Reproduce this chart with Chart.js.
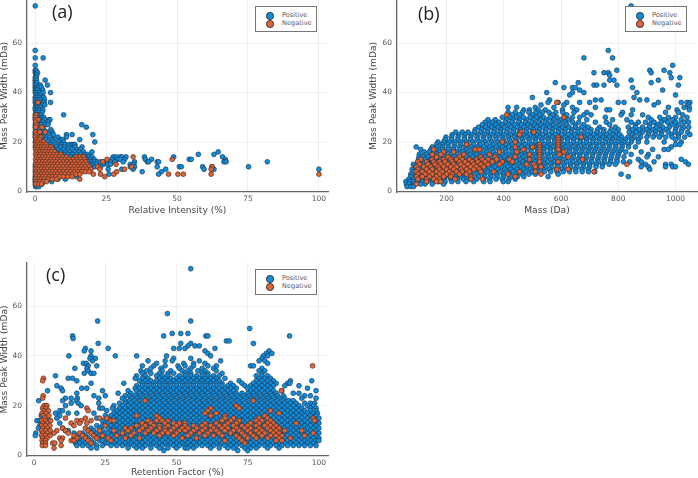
<!DOCTYPE html>
<html>
<head>
<meta charset="utf-8">
<title>Mass peak width</title>
<script src="https://cdn.jsdelivr.net/npm/chart.js@4"></script>
<style>
  html, body { margin: 0; padding: 0; background: #fff; }
  body { position: relative; width: 698px; height: 478px; overflow: hidden; }
  canvas { position: absolute; }
  .tag { position: absolute; font: 18px "Open Sans", sans-serif; color: #222; line-height: 20px; }
  .legend { position: absolute; width: 60px; height: 24px; border: 1px solid #777; background: #fff; z-index: 2;
            font: 6.6px "DejaVu Sans", sans-serif; color: #555; }
  .legend div { position: absolute; left: 26px; line-height: 9px; white-space: nowrap; }
  .legend i { position: absolute; left: -16px; top: 1px; width: 5.6px; height: 5.6px; border-radius: 50%; border: .6px solid #333; }
</style>
</head>
<body>
<canvas id="chartA"></canvas>
<canvas id="chartB"></canvas>
<canvas id="chartC"></canvas>
<script>
const seriesNames = ['Positive', 'Negative'];
const yTicks = [0, 20, 40, 60];
const xTicksA = [0, 25, 50, 75, 100];
const xTicksB = [200, 400, 600, 800, 1000];
const xTicksC = [0, 25, 50, 75, 100];
const yTitle = 'Mass Peak Width (mDa)';

// every row is [peak width, [x values read at that width]]
const posIntensity = [
  [75,[0]],[57,[0]],[54,[0,2.8]],[51,[0]],[49,[0,.3]],[48,[0,.4,.8]],[47,[.2,.5]],[46,[0,.3]],[45,[0,.4,3.5]],[44,[0,.6]],
  [43,[0,.3,1.8,4.3]],[42,[0,.5,1.2,2.2]],[41,[0,.3,.8,2.6]],[40,[0,.6,1.5,2.8,5.4]],[39,[.2,1,1.9]],[38,[0,.5,1.3,2.4,3]],
  [37,[0,.8,1.7,3.3]],[36,[0,.4,1.2,2.1,3,5.4]],[35,[.2,.7,1.6,2.5,3.4]],[34,[0,.5,1,2]],[33,[0,.8,1.4,2.7]],[32,[.2,.6,1.2,2.4]],
  [31,[0,.7,1.5,2,10]],[30,[0,.4,1.1,2.3,3]],[29,[0,.6,1.3,2.5,3.2,4.8,5.2]],[28,[.2,.8,1.9,2.8,4.6]],[27,[0,.5,1.2,2.1,3.5,4.5,16.4]],
  [26,[0,.9,1.6,2.6,18]],[25,[.1,.7,1.4,3,5.5]],[24,[0,.6,1.5,2.4,3.6,4.2,6]],[23,[0,1,2,3.1,5.8,6.4,11,13,20.3]],
  [22,[0,.7,1.8,2.9,4,5.2,8,11]],[21,[.2,1.2,2.5,3.7,6,7,9,9.6,15.7]],[20,[0,1,2.2,4.5,6.6,8.7,10,21]],
  [19,[.3,1.5,3,5,7,8.8,9.5,10.5,12,12.8,13.5,14]],[18,[0,2,4,6,7.5,9,10.3,14,16.5]],[17,[.5,2.6,5,6.5,8,10,11.5,13,14.8,16]],
  [16,[1,3.5,6,7.5,9,10.5,12,14,15.5,17,20,64.5]],[15,[2,5,7,8.5,10.5,11.5,13,14.5,16,17.5,18.5,57.5,63]],
  [14,[4,7,9,11,12.5,14,15.5,17,18.2,19,20,27.5,28.5,30,30.5,32,38.5,48.8,66]],
  [13,[6,9,11,13,15,17,18,19.5,20.8,27,29,30,31.5,38.8,41,54.3,55,67]],
  [12,[5,8,12,14,16,18,19,20,21,22,23,24,25,26.5,28,31,35,39.5,40,43,43.5,66.5,67.3,81.8]],
  [11,[.1,7,15,19,20.5,21.5,24,25.5,26.5,33.5,34.7]],[10,[0,9,18,21,23,33.5,35,43,50.8,51.5,59,62.3,75.2]],
  [9,[.1,10.5,19.5,25.7,30.5,34.5,46,59.5,63,100]],[8,[0,11,37.7,44.5]],[7,[.1,6,13.5,26,43.5]],[6,[0,.4,2,7.5,14.5]],
  [5,[0,.5,1.5,4,8,10.6]],[4,[0,.4,1,2,5.8]],[3,[0,.5,1,1.6,2.4]],[2,[.1,.5,1.3]]
];
const negIntensity = [
  [36,[1]],[31,[.3]],[30,[.1]],[29,[.2,1]],[28,[.1]],[27,[.4]],[26,[.2,2.4]],[24,[.1,1.6,3.5]],[23,[.3]],[22,[.1,1.2,2]],
  [21,[.4,1.6]],[20,[.2,1,2.2,3]],[19,[.1,.9,1.8,2.9,3.8]],[18,[.3,1.2,2.2,3.2,4.5,5.5]],[17,[.1,.9,2,2.9,4,5,6]],
  [16,[.4,1.5,2.5,3.5,4.6,5.7,6.8]],[15,[.1,1,2,3.1,4.2,5.3,6.5,7.7,9]],[14,[.4,1.5,2.6,3.7,4.8,6,7.2,8.5,9.8,11,14.4,15.6,17,34.5]],
  [13,[.1,1,2.1,3.2,4.3,5.5,6.7,8,9.2,10.4,12,13.4,14.8,16,17.4,25.3,48.3]],
  [12,[.4,1.5,2.6,3.7,4.9,6.1,7.3,8.6,9.9,11.2,12.6,13.9,15.2,16.5,17.8,23.8]],
  [11,[.1,1,2.1,3.2,4.3,5.5,6.7,7.9,9.2,10.5,11.8,13.1,14.4,15.7,17,18.3,28.5]],
  [10,[.4,1.5,2.6,3.7,4.9,6.1,7.3,8.6,9.9,11.2,12.5,13.8,15.1,16.4,17.7,19,22,34,62.3]],
  [9,[.1,1,2.1,3.2,4.3,5.5,6.7,7.9,9.2,10.5,11.8,13.1,14.4,15.7,17,18.3,19.6,22.8,31.5,62]],
  [8,[.4,1.5,2.6,3.7,4.9,6.1,7.3,8.6,9.9,11.2,12.5,13.8,15.1,16.4,17.7,19,28.7]],
  [7,[.1,1,2.1,3.2,4.3,5.5,6.7,7.9,9.2,10.5,11.8,13.1,14.4,15.7,20.5,23,27.7,47,50.3,52.2,62,100]],
  [6,[.4,1.5,2.6,3.7,4.9,6.1,7.3,8.6,9.9,11.5,13,24.5]],[5,[.1,1,2.1,3.2,4.5,6,7.5,15.7]],[4,[.4,1.6,2.8,4]],[3,[.2,1.2,2.2]]
];

const posMass = [
  [75,[845]],[57,[765]],[54,[680,780]],[51,[990]],[49,[795,910,960]],[48,[715,750,765,915,980]],[47,[770]],[46,[985,1015]],[45,[770,785,845,940]],
  [44,[580,660,915]],[43,[715,725,750,795,1010]],[42,[610,640,650,850]],[41,[665,955]],[40,[550,640,680,865]],[39,[630,1000]],[38,[500,855]],
  [37,[560,720,740,875,900]],[36,[555,590,620,665,700,800,820,940,1020,1040,1050]],[35,[530,610,925,1045]],[34,[415,445,510,575,640,720,975,1030,1048]],
  [33,[470,490,520,545,605,655,760,770,850,1005,1048]],[32,[415,440,465,488,512,535,558,582,606,645,690,815,965,1010]],
  [31,[430,455,500,525,570,620,680,705,810,845,885,1025]],[30,[395,420,445,468,492,515,538,562,585,610,640,665,755,905,945,975,1000,1040]],
  [29,[345,370,410,432,455,480,505,527,550,575,600,625,690,780,830,915,960,990,1020]],[28,[335,360,383,405,428,452,475,498,522,545,568,592,615,640,662,720,758,845,870,895,925,950,972,1000,1030,1045]],
  [27,[325,350,372,395,418,440,462,485,508,530,553,575,598,620,650,680,770,860,910,938,985,1012]],[26,[312,336,358,380,402,425,448,470,493,515,538,560,583,605,628,650,672,695,735,790,835,860,885,908,932,955,978,1002,1028,1046]],
  [25,[300,323,345,368,390,413,435,458,480,503,525,548,570,593,615,638,660,683,705,728,750,775,800,850,873,900,922,945,968,1000,1022]],[24,[232,255,275,298,320,342,365,387,410,432,455,478,500,522,545,568,590,612,635,658,680,702,725,748,770,792,838,862,885,908,930,952,975,998,1020,1042]],
  [23,[220,243,265,288,310,333,355,378,400,423,445,468,490,513,535,558,580,603,625,648,670,693,715,738,760,783,805,850,875,905,928,950,985,1010,1050]],[22,[198,218,240,262,284,306,328,350,372,394,416,438,460,482,504,526,548,570,592,614,636,658,680,702,724,746,768,790,812,834,856,878,900,922,944,966,988,1010,1032]],
  [21,[195,218,240,263,285,308,330,353,375,398,420,443,465,488,510,533,555,578,600,623,645,668,690,713,735,758,780,803,825,848,870,1000]],[20,[170,190,210,230,250,270,292,314,336,358,380,402,424,446,468,490,512,534,556,578,600,622,644,666,688,710,732,754,776,798,820,845,870,900,960,1020]],
  [19,[165,185,205,228,250,273,295,318,340,363,385,408,430,453,475,498,520,543,565,588,610,633,655,678,700,723,745,768,790,813,835,1000,1015]],[18,[94,150,168,186,206,226,246,266,286,308,330,352,374,396,418,440,462,484,506,528,550,572,594,616,638,660,682,704,726,748,770,792,814,836,860,985]],
  [17,[110,145,165,185,205,225,248,270,293,315,338,360,383,405,428,450,473,495,518,540,563,585,608,630,653,675,698,720,743,765,788,810,920,960,975]],[16,[122,140,158,176,196,216,236,256,276,298,320,342,364,386,408,430,452,474,496,518,540,562,584,606,628,650,672,694,716,738,760,782,804,826,880]],
  [15,[105,130,150,170,193,215,238,260,283,305,328,350,373,395,418,440,463,485,508,530,553,575,598,620,643,665,688,710,733,755,778,800,845,905]],[14,[104,118,136,154,172,190,210,230,250,270,292,314,336,358,380,402,424,446,468,490,512,534,556,578,600,622,644,666,688,710,732,754,776,798,820,900,940]],
  [13,[102,125,145,165,188,210,233,255,278,300,323,345,368,390,413,435,458,480,503,525,548,570,593,615,638,660,683,705,728,750,773,795,870,1020]],[12,[100,116,134,152,170,188,208,228,248,268,290,312,334,356,378,400,422,444,466,488,510,532,554,576,598,620,642,664,686,708,730,752,774,796,818,840,880,925,1035]],
  [11,[84,120,140,160,183,205,228,250,273,295,318,340,363,385,408,430,453,475,498,520,543,565,588,610,633,655,678,700,723,745,768,790,895,965,985,1045]],[10,[90,108,126,144,162,180,200,220,240,260,282,304,326,348,370,392,414,436,458,480,502,524,546,568,590,612,634,656,678,700,722,744,880,905,965,990,1000]],
  [9,[80,115,135,155,178,200,223,245,268,290,313,335,358,380,403,425,448,470,493,515,538,560,583,605,628,650,673,695,910]],[8,[84,102,120,138,156,176,196,216,236,256,278,300,322,344,366,388,410,432,454,476,498,520,542,564,586,608,630,652,674,696,718]],
  [7,[75,110,130,150,173,195,218,240,263,285,308,330,353,375,398,420,443,465,488,510,590,810]],[6,[76,92,108,124,142,160,178,196,214,232,250,270,290,312,334,356,378,400,425,448,470,555,835]],
  [5,[68,85,105,125,148,170,193,215,238,260,283,305,328,350,373,395,418,440]],[4,[58,72,84,98,115,132,150,172,195,218,240,268,295,330,352,398,415]],[3,[60,70,88,110,125,150,190]],[2,[62,75,85]]
];
const negMass = [
  [36,[585]],[31,[410]],[30,[610]],[24,[460,505]],[23,[455]],[22,[590,670]],[21,[590]],[20,[395,590,440]],[19,[270,525,590]],[18,[525,590,440,500]],
  [17,[155,300,315,525,470,590]],[16,[190,225,525,385,445,610]],[15,[180,150,260,350,525,490,595]],[14,[165,205,245,320,370,440,525,625]],
  [13,[110,150,190,215,235,255,280,305,325,345,375,420,490,525,675]],[12,[100,130,155,175,195,220,245,265,290,310,335,360,395,430,525,590]],
  [11,[105,135,160,180,205,225,250,275,295,320,345,385,480,505,830]],[10,[95,120,145,170,190,215,235,260,285,305,330,510,530]],
  [9,[100,130,150,175,200,225,250,270,295,315,585,625]],[8,[95,115,140,165,185,210,235,255,280,320,365,455,510,715]],
  [7,[100,125,150,175,200,220,245,270,415,530]],[6,[95,115,140,165,190,215,285,440]],[5,[100,130,155,175,230,325,285]],[4,[130,165,180]],[3,[95]]
];

const posRetention = [
  [75,[55]],[57,[46.8]],[54,[22.3,55]],[51,[75.7]],[49,[48.5,51.5,54]],[48,[13.5,45.5,60.3,61,89.7]],[47,[13.7]],[46,[67.5,68.5]],
  [45,[22.5,51.5,55,77]],[44,[54,56.5,58]],[43,[18,26,49,51,53,63.5]],[42,[17.6,20,60,82.5]],[41,[61,81.5,83.5]],
  [40,[12.2,20,28.5,36,46.5,62,80.5,82]],[39,[19.6,21.5,49,55,80]],[38,[20.5,40,46,48.5,58,65.5,79,81]],
  [37,[17.3,18.3,43,52.5,56,60,82]],[36,[19,22,38,42,46,50.5,53,56,61,64,76,77]],[35,[14.3,18.5,41,44.5,51,55,59,63,80]],
  [34,[19,37.5,39.5,45,48,52,54,57.5,60,64,79,81]],[33,[17.6,20,21,38,41,44,47,49,53,55,59,61,66,80]],
  [32,[7.5,36,39,43,45,47,51,53,55,57,59,61,63,65,78,80,82]],[31,[12,13.5,35.5,38,40,44,46,48,50,52,54,56,58,60,62,64,67,79,81,83]],
  [30,[15,37,39,41,43,45,47,49,51,53,55,57,59,61,63,65,72,78,80,82,84,90,97.5]],[29,[20,31.5,38,40,42,44,46,48,50,52,54,56,58,60,62,64,66,69,73,77,79,81,83,85,89,89.8]],
  [28,[8,36,38,40,42,44,46,48,50,52,54,56,58,60,62,64,66,68,70,74,76,78,80,82,84,88,93]],[27,[16.7,18.5,9.5,35.5,37,39,41,43,45,47,49,51,53,55,57,59,61,63,65,67,69,71,75,77,79,81,83,96]],
  [26,[4.7,10,24,33,36,38,40,42,44,46,48,50,52,54,56,58,60,62,64,66,68,70,76,78,80,82,84,87,99]],[25,[15,29.5,34,37,39,41,43,45,47,49,51,53,55,57,59,61,63,65,67,69,71,73,75,77,79,81,83,85,91,93]],
  [24,[25,21,32,33.5,35.5,37.5,39.5,41.5,43.5,45.5,47.5,49.5,51.5,53.5,55.5,57.5,59.5,61.5,63.5,65.5,67.5,69.5,71.5,73.5,75.5,77.5,79.5,81.5,83.5,85.5,87.5,95,97]],
  [23,[11,13,15.2,22.7,31,34,36,38,40,42,44,46,48,50,52,54,56,58,60,62,64,66,68,70,72,74,76,78,80,82,84,86,88,94,99]],
  [22,[1.6,10,14.8,32,33.5,35.5,37.5,39.5,41.5,43.5,45.5,47.5,49.5,51.5,53.5,55.5,57.5,59.5,61.5,63.5,65.5,67.5,69.5,71.5,73.5,75.5,77.5,79.5,81.5,83.5,85.5,87.5,89.5,91]],
  [21,[13,15.5,22.7,30,32,34,36,38,40,42,44,46,48,50,52,54,56,58,60,62,64,66,68,70,72,74,76,78,80,82,84,86,88,90,92,95,97,98.5]],
  [20,[4,11,16.5,28,31,33,35,37,39,41,43,45,47,49,51,53,55,57,59,61,63,65,67,69,71,73,75,77,79,81,83,85,87,89,91,93,96,98]],
  [19,[23,24,27.5,30,32,34,36,38,40,42,44,46,48,50,52,54,56,58,60,62,64,66,68,70,72,74,76,78,80,82,84,86,88,90,92,94,97,99]],
  [18,[9,10,25.5,29,31,33,35,37,39,41,43,45,47,49,51,53,55,57,59,61,63,65,67,69,71,73,75,77,79,81,83,85,87,89,91,93,95,97,99]],
  [17,[7.5,12,15,21,28,30,32,34,36,38,40,42,44,46,48,50,52,54,56,58,60,62,64,66,68,70,72,74,76,78,80,82,84,86,88,90,92,94,96,98,99.5]],
  [16,[2.5,9,25,27,29,31,33,35,37,39,41,43,45,47,49,51,53,55,57,59,61,63,65,67,69,71,73,75,77,79,81,83,85,87,89,91,93,95,97,99]],
  [15,[8,22,26,28,30,32,34,36,38,40,42,44,46,48,50,52,54,56,58,60,62,64,66,68,70,72,74,76,78,80,82,84,86,88,90,92,94,96,98,100]],
  [14,[1,2,5,24,27,29,31,33,35,37,39,41,43,45,47,49,51,53,55,57,59,61,63,65,67,69,71,73,75,77,79,81,83,85,87,89,91,93,95,97,99]],
  [13,[9,25,26,28,30,32,34,36,38,40,42,44,46,48,50,52,54,56,58,60,62,64,66,68,70,72,74,76,78,80,82,84,86,88,90,92,94,96,98,100]],
  [12,[2,22,24,27,29,31,33,35,37,39,41,43,45,47,49,51,53,55,57,59,61,63,65,67,69,71,73,75,77,79,81,83,85,87,89,91,93,95,97,99]],
  [11,[1.5,10,20,23,26,28,30,32,34,36,38,40,42,44,46,48,50,52,54,56,58,60,62,64,66,68,70,72,74,76,78,80,82,84,86,88,90,92,94,96,98,100]],
  [10,[11,12,19,21,24,27,29,31,33,35,37,39,41,43,45,47,49,51,53,55,57,59,61,63,65,67,69,71,73,75,77,79,81,83,85,87,89,91,93,95,97,99]],
  [9,[.6,14,17,20,22,25,26,28,30,32,34,36,38,40,42,44,46,48,50,52,54,56,58,60,62,64,66,68,70,72,74,76,78,80,82,84,86,88,90,92,94,96,98,100]],
  [8,[.4,15,18,21,23,24,27,29,31,33,35,37,39,41,43,45,47,49,51,53,55,57,59,61,63,65,67,69,71,73,75,77,79,81,83,85,87,89,91,93,95,97,99]],
  [7,[14,16,19,22,25,26,28,30,32,34,36,38,40,42,44,46,48,50,52,54,56,58,60,62,64,66,68,70,72,74,76,78,80,82,84,86,88,90,92,94,96,98,100]],
  [6,[15,17,20,23,24,27,29,31,33,35,37,39,41,43,45,47,49,51,53,55,57,59,61,63,65,67,69,71,73,75,77,79,81,83,85,87,89,91,93,95,97,99,100]],
  [5,[14.5,16,18,21,25,26,28,30,32,34,36,38,40,42,44,46,48,50,52,54,56,58,60,62,64,66,68,70,72,74,76,78,80,82,84,86,88,90,92,94,96,98]],
  [4,[15,17,19,22,24,27,29,31,33,35,37,39,41,43,45,47,49,51,53,55,57,59,61,63,65,67,69,71,73,75,77,79,81,83,85,87,89,91,93,95,97,99]],
  [3,[20,22,33,36,38,41,44,47,50,53,54,56,62,65,68,70,74,76,78,82,86]],[2,[45.5,71.5,75]]
];
const negRetention = [
  [36,[97.8]],[31,[3.3]],[30,[3]],[26,[86.8]],[24,[3.2]],[23,[3]],[22,[39,77]],[20,[3.5,4.5,71]],[19,[3,4,18.5,62,72]],[18,[3.5,5,19,61,83]],
  [17,[2.8,4.2,60,64,86]],[16,[3.2,5.2,36,43,62,67,81]],[15,[3.6,11,18,23,25.5,44,67,70,79,82,98]],
  [14,[2.6,4,5.8,15,16.5,20,27,28,40,43,45,47,66,69,72,78,80,83,98.5]],[13,[3,4.6,13,16,18.5,38,41,46,49,51,53,60,64,68,71,76,79,82,84,92]],
  [12,[2.6,4,5.5,14,25,36,39,42,44,47,50,53,56,59,62,65,67,70,73,75,78,81,83,85]],
  [11,[3,4.6,10,18,32,34,38,41,44,46,49,52,54,57,60,63,66,68,71,74,76,79,82,84,86]],
  [10,[2.6,4,5.6,8,11,19,23,28,33,37,40,43,46,48,51,53,56,59,62,64,67,70,72,75,78,80,83,85,88,94]],
  [9,[3,4.6,7,12,16,20,31,35,39,42,45,47,50,55,58,61,65,69,73,76,79,81,84,86,98]],
  [8,[2.6,4,5.6,14,17,21,24,29,34,44,49,54,60,63,66,71,74,77,80,83,85,87,95]],[7,[3,4.5,9,10,15,18,22,26,32,37,52,57,72,75,78,82,86,90]],
  [6,[2.8,4,9.5,13,14,19,27,67,73,85,87]],[5,[3,4,6.5,7.3,20,74]],[4,[2.9,4,9.5]],[3,[7]]
];

function toPoints(rows) {
    const pts = [];
    rows.forEach(row => row[1].forEach(x => pts.push({ x: x, y: row[0] })));
    return pts;
}

// one panel, placed so that its plot area lands where the reference has it
function drawPanel(id, box, xTicks, xTitle, pos, neg) {
    const canvas = document.getElementById(id);
    canvas.style.left = box.left + 'px';
    canvas.style.top = box.top + 'px';
    canvas.style.width = box.width + 'px';
    canvas.style.height = box.height + 'px';
    canvas.width = box.width;
    canvas.height = box.height;

    // no extra room for overhanging tick labels, the plot area is fixed
    const noMargins = s => { s.paddingLeft = 0; s.paddingRight = 0; s.paddingTop = 0; s.paddingBottom = 0; };

    new Chart(canvas, {
        type: 'scatter',
        data: {
            datasets: [
                { label: seriesNames[0], data: toPoints(pos), backgroundColor: '#0e8fe2', borderColor: '#1d3a50', order: 2 },
                { label: seriesNames[1], data: toPoints(neg), backgroundColor: '#e0643a', borderColor: '#4a2c20', order: 1 }
            ]
        },
        options: {
            responsive: false,
            animation: false,
            layout: { autoPadding: false, padding: { left: box.padLeft, top: box.padTop, right: box.padRight, bottom: 0 } },
            elements: { point: { radius: 2.4, borderWidth: 0.7 } },
            plugins: { legend: { display: false }, tooltip: { enabled: false } },
            scales: {
                x: {
                    type: 'linear',
                    min: box.xMin,
                    max: box.xMax,
                    afterBuildTicks: s => { s.ticks = xTicks.map(v => ({ value: v })); },
                    afterFit: s => { s.height = box.xAxisHeight; noMargins(s); },
                    grid: { color: 'rgba(0,0,0,0.06)', drawTicks: false },
                    border: { color: '#666', width: 1.3 },
                    ticks: { padding: 3, color: '#555', maxRotation: 0, callback: v => String(v), font: { family: 'DejaVu Sans', size: 7.5 } },
                    title: { display: true, text: xTitle, color: '#444', padding: 0, font: { family: 'DejaVu Sans', size: 9.1 } }
                },
                y: {
                    type: 'linear',
                    min: box.yMin,
                    max: box.yMax,
                    afterBuildTicks: s => { s.ticks = yTicks.map(v => ({ value: v })); },
                    afterFit: s => { s.width = box.yAxisWidth; noMargins(s); },
                    grid: { color: 'rgba(0,0,0,0.06)', drawTicks: false },
                    border: { color: '#666', width: 1.3 },
                    ticks: { padding: 5, color: '#555', font: { family: 'DejaVu Sans', size: 7.5 } },
                    title: { display: true, text: yTitle, color: '#444', padding: 0, font: { family: 'DejaVu Sans', size: 9.1 } }
                }
            }
        }
    });
}

function addLegend(left, top) {
    const el = document.createElement('div');
    el.className = 'legend';
    el.style.left = left + 'px';
    el.style.top = top + 'px';
    const colors = ['#0e8fe2', '#e0643a'];
    seriesNames.forEach((name, i) => {
        const row = document.createElement('div');
        row.style.top = (4 + i * 8.4) + 'px';
        row.textContent = name;
        const dot = document.createElement('i');
        dot.style.background = colors[i];
        row.appendChild(dot);
        el.appendChild(row);
    });
    document.body.appendChild(el);
}

function addTag(text, left, top) {
    const el = document.createElement('div');
    el.className = 'tag';
    el.style.left = left + 'px';
    el.style.top = top + 'px';
    el.textContent = text;
    document.body.appendChild(el);
}

drawPanel('chartA', { left: -1, top: 0, width: 343, height: 216, padLeft: 0, padTop: 0, padRight: 14, yAxisWidth: 28, xAxisHeight: 24,
    xMin: -2.9, xMax: 103.2, yMin: -0.2, yMax: 77.4 }, xTicksA, 'Relative Intensity (%)', posIntensity, negIntensity);
drawPanel('chartB', { left: 350, top: 0, width: 348, height: 216, padLeft: 18, padTop: 0, padRight: 1, yAxisWidth: 29, xAxisHeight: 24,
    xMin: 27, xMax: 1075, yMin: -0.2, yMax: 77.4 }, xTicksB, 'Mass (Da)', posMass, negMass);
drawPanel('chartC', { left: -1, top: 260, width: 343, height: 218, padLeft: 0, padTop: 3, padRight: 14, yAxisWidth: 28, xAxisHeight: 22,
    xMin: -2.5, xMax: 103.2, yMin: -0.2, yMax: 77.3 }, xTicksC, 'Retention Factor (%)', posRetention, negRetention);

addLegend(255, 6);
addLegend(625, 6);
addLegend(255, 269);
addTag('(a)', 52, 1);
addTag('(b)', 418, 3);
addTag('(c)', 46, 264);
</script>
</body>
</html>
